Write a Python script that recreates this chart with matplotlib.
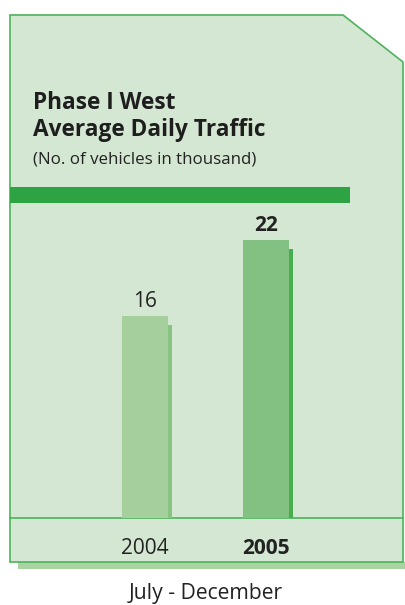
import matplotlib
matplotlib.use("Agg")
import matplotlib.pyplot as plt
from matplotlib.patches import Polygon, Rectangle
import numpy as np

plt.rcParams['font.family'] = ['Open Sans', 'DejaVu Sans']

categories = ["2004", "2005"]
values = [16, 22]
title_lines = ["Phase I West", "Average Daily Traffic"]
subtitle = "(No. of vehicles in thousand)"
xlabel = "July - December"

W, H = 406, 605
fig = plt.figure(figsize=(W / 100, H / 100), dpi=100)

def fx(px):
    return px / W

def fy(py):
    return 1 - py / H

panel_bg = "#d4e7d2"
border = "#4db35a"
shadow_col = "#a9d4a2"

# panel shadow
fig.patches.append(Rectangle((fx(18), fy(569)), fx(405) - fx(18), fy(562) - fy(569),
                             transform=fig.transFigure, facecolor=shadow_col,
                             edgecolor="none", zorder=0))
# panel
pts = [(10, 15), (343, 15), (403, 62), (403, 562), (10, 562)]
fig.patches.append(Polygon([(fx(a), fy(b)) for a, b in pts], closed=True,
                           transform=fig.transFigure, facecolor=panel_bg,
                           edgecolor=border, linewidth=1.2, zorder=1))
# green band
fig.patches.append(Rectangle((fx(10), fy(203)), fx(350) - fx(10), fy(187) - fy(203),
                             transform=fig.transFigure, facecolor="#2ea343",
                             edgecolor="none", zorder=2))
# separator line
fig.add_artist(plt.Line2D([fx(10), fx(403)], [fy(518), fy(518)],
                          transform=fig.transFigure, color=border, linewidth=1.2, zorder=3))

# bars axes
px_per_unit = 12.65
ymax = 25
top_px = 518 - ymax * px_per_unit
ax = fig.add_axes([fx(10), fy(518), fx(403) - fx(10), fy(top_px) - fy(518)])
ax.set_zorder(4)
ax.patch.set_alpha(0)
spacing = 121
ax.set_xlim(-(145 - 10) / spacing, 1 + (403 - 266) / spacing)
ax.set_ylim(0, ymax)
ax.axis("off")

x = np.arange(len(categories))
vals = np.array(values, dtype=float)
bw = 46 / spacing
main_cols = ["#a5d09e", "#83c183"]
shadow_cols = ["#88c383", "#47ad4f"]
ax.bar(x + 4 / spacing, vals - 9 / px_per_unit, width=bw, color=shadow_cols, zorder=1, linewidth=0)
ax.bar(x, vals, width=bw, color=main_cols, zorder=2, linewidth=0)

weights = ["normal", "bold"]
for xi, v, c, w in zip(x, values, categories, weights):
    ax.annotate(f"{v}", (xi, v), xytext=(0, 6.5), textcoords="offset points",
                ha="center", va="baseline", fontsize=15, fontweight=w, color="#222222")
    fig.text(ax.transData.transform((xi, 0))[0] / W, fy(554), c, ha="center", va="baseline",
             fontsize=15, fontweight=w, color="#222222")

fig.text(fx(33), fy(109), title_lines[0], fontsize=16.3, fontweight="bold",
         ha="left", va="baseline", color="#1e1e1e")
fig.text(fx(33), fy(136.5), title_lines[1], fontsize=16.3, fontweight="bold",
         ha="left", va="baseline", color="#1e1e1e")
fig.text(fx(33), fy(163), subtitle, fontsize=12.2, ha="left", va="baseline", color="#222222")
fig.text(fx(206), fy(598.5), xlabel, fontsize=15.2, ha="center", va="baseline", color="#222222")

fig.savefig("out.png", dpi=100, facecolor="white")
